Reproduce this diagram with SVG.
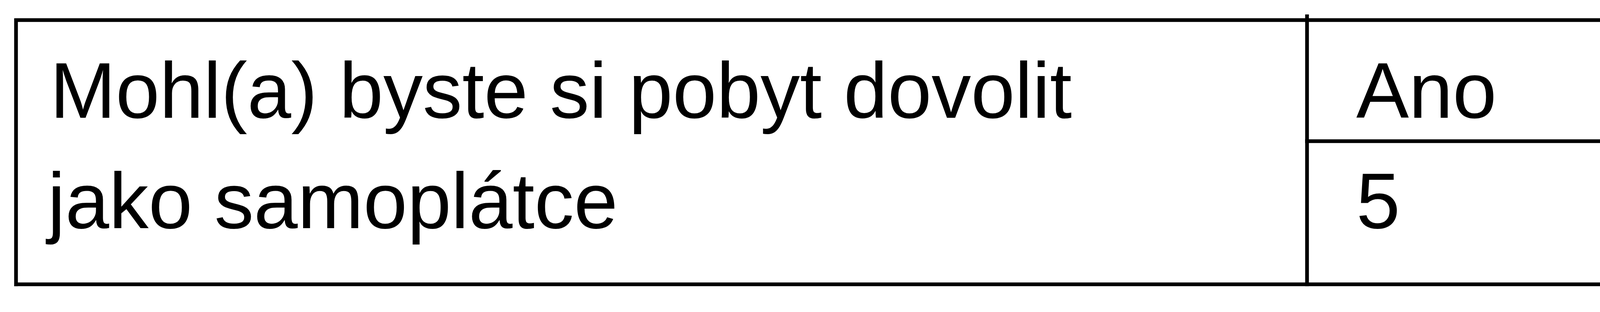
<svg xmlns="http://www.w3.org/2000/svg" width="5873" height="800" viewBox="0 0 5873 800">
<style>
.l{stroke:#000;stroke-width:9.5;fill:none}
.t{font-family:"Liberation Sans",Arial,sans-serif;font-size:202px;fill:#000}
</style>
<rect width="5873" height="800" fill="#fff"/>
<g id="grid">
<line class="l" x1="37" y1="51.5" x2="5816" y2="51.5"/>
<line class="l" x1="3341" y1="362" x2="5826" y2="362"/>
<line class="l" x1="37" y1="729" x2="5816" y2="729"/>
<line class="l" x1="41" y1="47" x2="41" y2="734"/>
<line class="l" x1="3346" y1="37" x2="3346" y2="734"/>
<line class="l" x1="4588" y1="37" x2="4588" y2="734"/>
<line class="l" x1="5811.5" y1="47" x2="5811.5" y2="734"/>
</g>
<g id="label">
<text class="t" x="128" y="302">Mohl(a) byste si pobyt dovolit</text>
<text class="t" x="122" y="585">jako samoplátce</text>
</g>
<g id="ano"><text class="t" x="3472" y="302">Ano</text></g>
<g id="ne"><text class="t" x="4735" y="302">Ne</text></g>
<g id="v5"><text class="t" x="3472" y="585">5</text></g>
<g id="v55"><text class="t" x="4735" y="585">55</text></g>
</svg>
